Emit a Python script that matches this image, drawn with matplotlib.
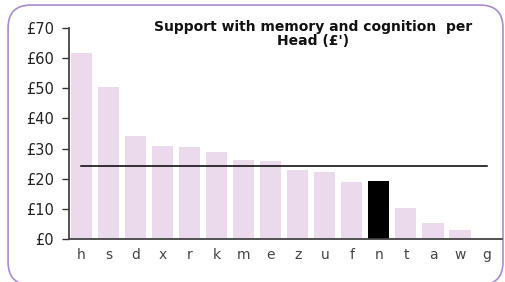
import numpy as np
import matplotlib.pyplot as plt
from matplotlib.patches import FancyBboxPatch

# values
areas = ['h', 's', 'd', 'x', 'r', 'k', 'm', 'e', 'z', 'u', 'f', 'n', 't', 'a', 'w', 'g']
per_head = [61.5, 50.5, 34.2, 30.9, 30.4, 29.0, 26.3, 25.9, 22.9, 22.3, 19.1, 19.2, 10.5, 5.5, 3.1, 0.0]
average = 24.2
highlight = 'n'
yticks = [0, 10, 20, 30, 40, 50, 60, 70]

fig = plt.figure(figsize=(5.05, 2.82), dpi=100)

# rounded purple frame around the whole chart (runs slightly off the right/bottom edges)
frame = FancyBboxPatch((0.016, -0.01), 0.98, 0.992, boxstyle="round,pad=0,rounding_size=0.045",
                       transform=fig.transFigure, facecolor='white', edgecolor='#a98bcf',
                       linewidth=1.2, mutation_aspect=505/282, zorder=-1)
fig.patches.append(frame)

ax = fig.add_axes([0.137, 0.151, 0.857, 0.751])
ax.patch.set_alpha(0)

x = np.arange(len(areas))
colors = ['black' if a == highlight else '#ebd9ec' for a in areas]
ax.bar(x, per_head, width=0.78, color=colors)
ax.plot([x[0], x[-1]], [average, average], color='black', linewidth=1.1)

ax.set_xlim(-0.45, 15.55)
ax.set_ylim(0, 70)
ax.set_yticks(yticks)
ax.set_yticklabels(['£%d' % v for v in yticks], fontsize=10.5, color='#222222')
ax.set_xticks(x)
ax.set_xticklabels(areas, fontsize=10, color='#444444')
ax.tick_params(axis='x', length=0, pad=6)
ax.tick_params(axis='y', length=5, width=1, color='#333333', pad=6)

for s in ['top', 'right']:
    ax.spines[s].set_visible(False)
for s in ['left', 'bottom']:
    ax.spines[s].set_color('#444444')
    ax.spines[s].set_linewidth(1.3)

fig.text(0.62, 0.93, "Support with memory and cognition  per\nHead (£')", ha='center', va='top',
         fontsize=10, fontweight='bold', linespacing=1.0, color='#111111')

fig.savefig('out.png', dpi=100)
